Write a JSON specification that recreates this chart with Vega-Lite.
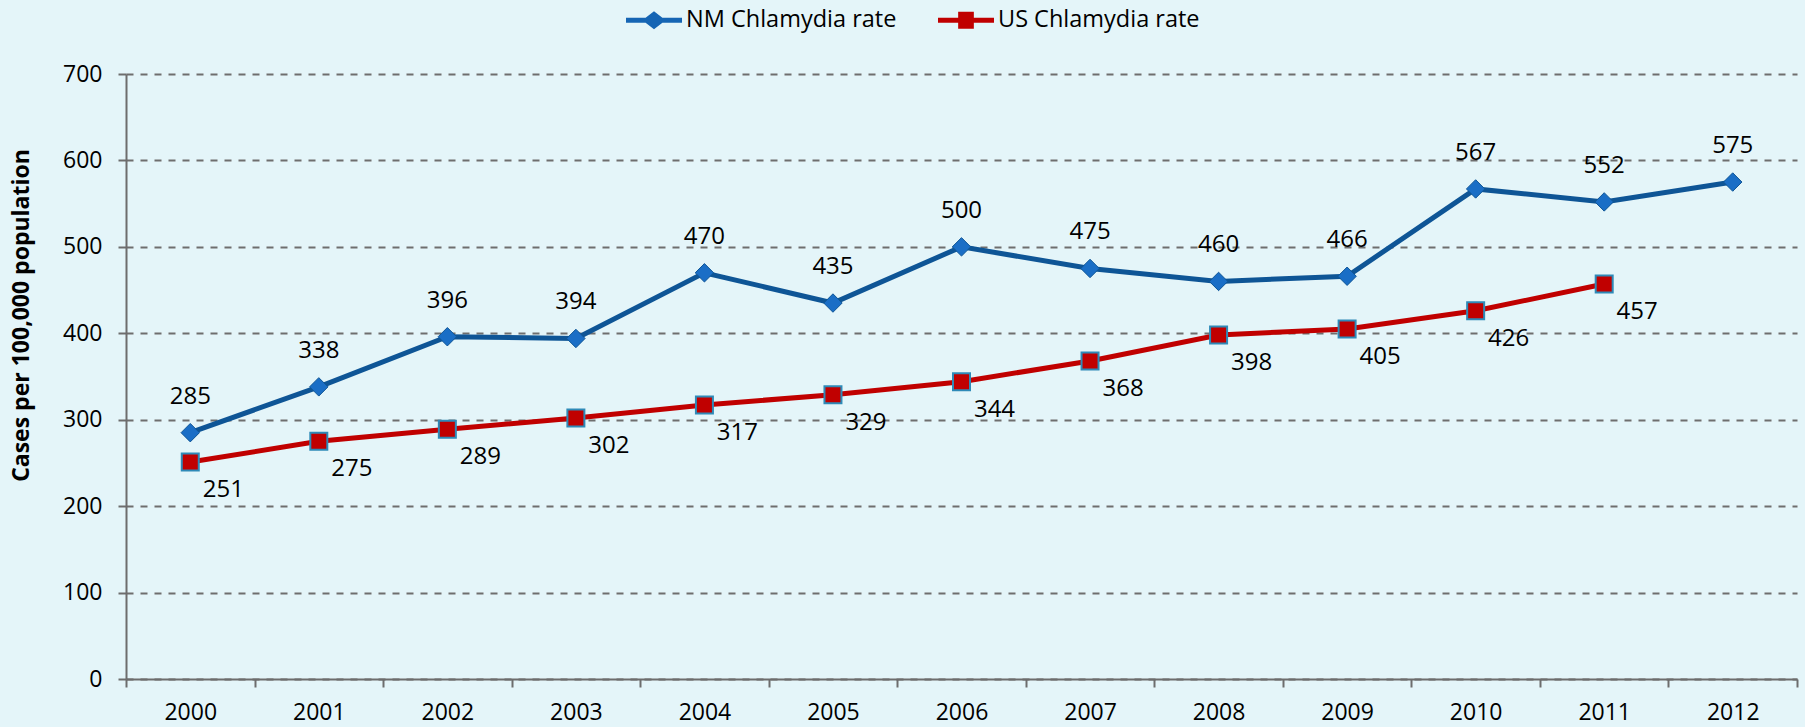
{
  "$schema": "https://vega.github.io/schema/vega-lite/v6.json",
  "width": 1671,
  "height": 605,
  "autosize": {"type": "none"},
  "padding": {"left": 126, "top": 74, "right": 8, "bottom": 48},
  "background": "#e4f5f9",
  "config": {
    "view": {"stroke": null},
    "font": "Open Sans"
  },
  "data": {
    "values": [
      {"year": "2000", "series": "NM Chlamydia rate", "rate": 285},
      {"year": "2001", "series": "NM Chlamydia rate", "rate": 338},
      {"year": "2002", "series": "NM Chlamydia rate", "rate": 396},
      {"year": "2003", "series": "NM Chlamydia rate", "rate": 394},
      {"year": "2004", "series": "NM Chlamydia rate", "rate": 470},
      {"year": "2005", "series": "NM Chlamydia rate", "rate": 435},
      {"year": "2006", "series": "NM Chlamydia rate", "rate": 500},
      {"year": "2007", "series": "NM Chlamydia rate", "rate": 475},
      {"year": "2008", "series": "NM Chlamydia rate", "rate": 460},
      {"year": "2009", "series": "NM Chlamydia rate", "rate": 466},
      {"year": "2010", "series": "NM Chlamydia rate", "rate": 567},
      {"year": "2011", "series": "NM Chlamydia rate", "rate": 552},
      {"year": "2012", "series": "NM Chlamydia rate", "rate": 575},
      {"year": "2000", "series": "US Chlamydia rate", "rate": 251},
      {"year": "2001", "series": "US Chlamydia rate", "rate": 275},
      {"year": "2002", "series": "US Chlamydia rate", "rate": 289},
      {"year": "2003", "series": "US Chlamydia rate", "rate": 302},
      {"year": "2004", "series": "US Chlamydia rate", "rate": 317},
      {"year": "2005", "series": "US Chlamydia rate", "rate": 329},
      {"year": "2006", "series": "US Chlamydia rate", "rate": 344},
      {"year": "2007", "series": "US Chlamydia rate", "rate": 368},
      {"year": "2008", "series": "US Chlamydia rate", "rate": 398},
      {"year": "2009", "series": "US Chlamydia rate", "rate": 405},
      {"year": "2010", "series": "US Chlamydia rate", "rate": 426},
      {"year": "2011", "series": "US Chlamydia rate", "rate": 457}
    ]
  },
  "encoding": {
    "x": {
      "field": "year",
      "type": "ordinal",
      "scale": {"paddingInner": 0, "paddingOuter": 0},
      "axis": {
        "title": null,
        "labelAngle": 0,
        "tickBand": "extent",
        "tickSize": 8,
        "tickColor": "#6d6d6d",
        "tickWidth": 2,
        "domainColor": "#6d6d6d",
        "domainWidth": 2,
        "labelFont": "Open Sans",
        "labelFontSize": 23,
        "labelColor": "#000000",
        "labelPadding": 14,
        "grid": false
      }
    },
    "y": {
      "field": "rate",
      "type": "quantitative",
      "scale": {"domain": [0, 700], "nice": false},
      "axis": {
        "values": [0, 100, 200, 300, 400, 500, 600, 700],
        "title": "Cases per 100,000 population",
        "titleFont": "Open Sans",
        "titleFontSize": 23,
        "titleFontWeight": "bold",
        "titleColor": "#000000",
        "titleAngle": -90,
        "titleX": -105,
        "titleY": 241,
        "titleAlign": "center",
        "titleBaseline": "middle",
        "tickSize": 8,
        "tickColor": "#6d6d6d",
        "tickWidth": 2,
        "domainColor": "#6d6d6d",
        "domainWidth": 2,
        "labelFont": "Open Sans",
        "labelFontSize": 23,
        "labelColor": "#000000",
        "labelPadding": 16,
        "grid": true,
        "gridColor": "#6e6e6e",
        "gridWidth": 2,
        "gridDash": [7, 7]
      }
    }
  },
  "layer": [
    {
      "mark": {"type": "line", "strokeWidth": 5},
      "encoding": {
        "color": {
          "field": "series",
          "type": "nominal",
          "scale": {"domain": ["NM Chlamydia rate", "US Chlamydia rate"], "range": ["#0e5596", "#c00000"]},
          "legend": {
            "title": null,
            "orient": "none",
            "direction": "horizontal",
            "legendX": 500,
            "legendY": -82,
            "padding": 0,
            "symbolSize": 3136,
            "symbolStrokeWidth": 0,
            "labelFont": "Open Sans",
            "labelFontSize": 23.5,
            "labelColor": "#000000",
            "labelLimit": 400,
            "labelOffset": 4,
            "columnPadding": 41,
            "encode": {
              "symbols": {
                "update": {
                  "shape": {"signal": "datum.value === 'NM Chlamydia rate' ? 'M-1,-0.09H-0.3L0,-0.32L0.3,-0.09H1V0.09H0.3L0,0.32L-0.3,0.09H-1Z' : 'M-1,-0.09H-0.28V-0.3H0.28V-0.09H1V0.09H0.28V0.3H-0.28V0.09H-1Z'"},
                  "fill": {"signal": "datum.value === 'NM Chlamydia rate' ? '#1565b4' : '#c00000'"},
                  "stroke": {"value": "transparent"}
                }
              }
            }
          }
        }
      }
    },
    {
      "transform": [{"filter": "datum.series === 'NM Chlamydia rate'"}],
      "mark": {"type": "point", "shape": "diamond", "size": 340, "filled": true, "fill": "#1a6ec6", "stroke": "#0e5596", "strokeWidth": 1, "opacity": 1}
    },
    {
      "transform": [{"filter": "datum.series === 'US Chlamydia rate'"}],
      "mark": {"type": "point", "shape": "square", "size": 289, "filled": true, "fill": "#c00000", "stroke": "#2e8ab8", "strokeWidth": 2, "opacity": 1}
    },
    {
      "transform": [{"filter": "datum.series === 'NM Chlamydia rate'"}],
      "mark": {"type": "text", "dy": -36, "font": "Open Sans", "fontSize": 24, "color": "#000000"},
      "encoding": {"text": {"field": "rate", "type": "quantitative"}}
    },
    {
      "transform": [{"filter": "datum.series === 'US Chlamydia rate'"}],
      "mark": {"type": "text", "dx": 33, "dy": 28, "font": "Open Sans", "fontSize": 24, "color": "#000000"},
      "encoding": {"text": {"field": "rate", "type": "quantitative"}}
    }
  ]
}
